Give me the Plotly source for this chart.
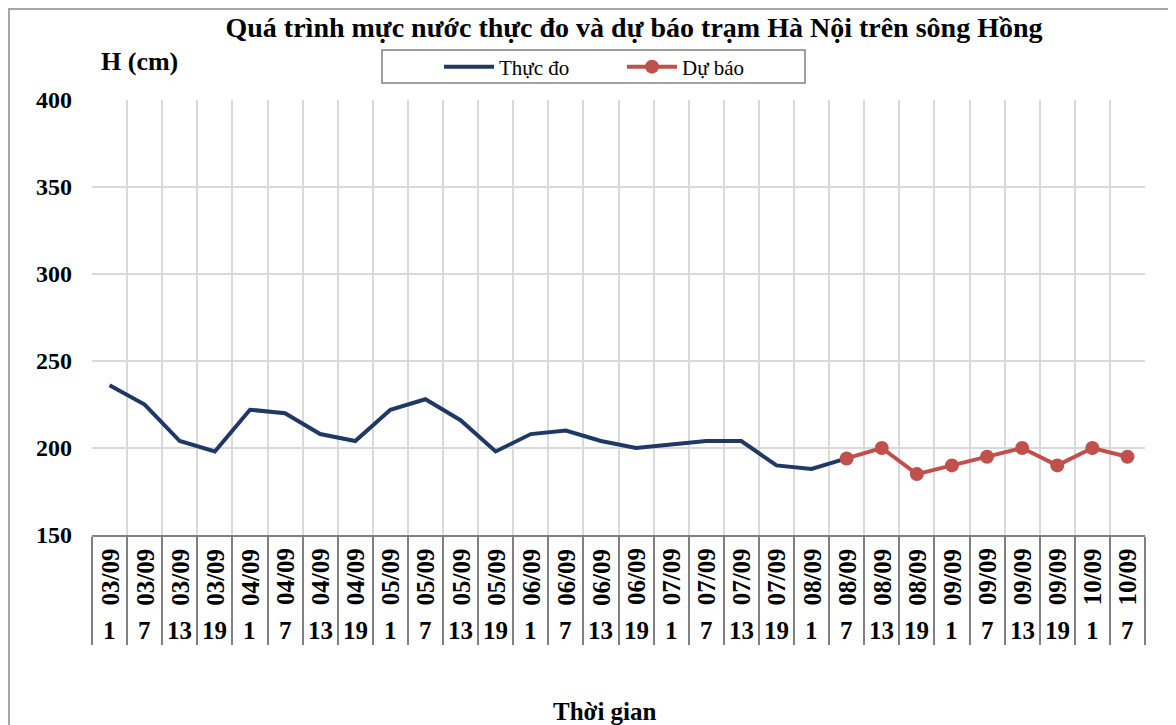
import plotly.graph_objects as go

dates = ["03/09"] * 4 + ["04/09"] * 4 + ["05/09"] * 4 + ["06/09"] * 4 + ["07/09"] * 4 + ["08/09"] * 4 + ["09/09"] * 4 + ["10/09"] * 2
hours = ["1", "7", "13", "19"] * 7 + ["1", "7"]

thuc_do = [236, 225, 204, 198, 222, 220, 208, 204, 222, 228, 216, 198,
           208, 210, 204, 200, 202, 204, 204, 190, 188, 194,
           None, None, None, None, None, None, None, None]
du_bao = [None] * 21 + [194, 200, 185, 190, 195, 200, 190, 200, 195]

n = len(dates)
xs = list(range(n))

OFF = 8  # page body margin
W, H = 1176 - OFF, 725 - OFF
L, R, T, B = 92, 1145, 100, 535  # plot area in page pixels
pw, ph = R - L, B - T

def px(x):
    return (x - L) / pw

def py(y):
    return (B - y) / ph

SERIF = "Liberation Serif"

fig = go.Figure()
fig.add_trace(go.Scatter(x=xs, y=thuc_do, mode="lines", name="Thực đo",
                         line=dict(color="#1F3864", width=4), connectgaps=False))
fig.add_trace(go.Scatter(x=xs, y=du_bao, mode="lines+markers", name="Dự báo",
                         line=dict(color="#C0504D", width=4),
                         marker=dict(color="#C0504D", size=14)))

annotations = []
for i in range(n):
    annotations.append(dict(x=i, y=py(577), xref="x", yref="paper", text=dates[i],
                            textangle=-90, showarrow=False, xanchor="center", yanchor="middle",
                            font=dict(family=SERIF, size=25, color="black", weight="bold")))
    annotations.append(dict(x=i, y=py(630), xref="x", yref="paper", text=hours[i],
                            showarrow=False, xanchor="center", yanchor="middle",
                            font=dict(family=SERIF, size=25, color="black", weight="bold")))
annotations.append(dict(x=px(139), y=py(62), xref="paper", yref="paper", text="H (cm)",
                        showarrow=False, xanchor="center", yanchor="middle",
                        font=dict(family=SERIF, size=26, color="black", weight="bold")))
annotations.append(dict(x=px(605), y=py(711), xref="paper", yref="paper", text="Thời gian",
                        showarrow=False, xanchor="center", yanchor="middle",
                        font=dict(family=SERIF, size=25, color="black", weight="bold")))

shapes = [
    dict(type="rect", xref="paper", yref="paper",
         x0=px(9), x1=px(1174), y0=py(760), y1=py(9),
         line=dict(color="#A6A6A6", width=2), fillcolor="rgba(0,0,0,0)", layer="below"),
    dict(type="rect", xref="paper", yref="paper",
         x0=px(382), x1=px(805), y0=py(83), y1=py(50),
         line=dict(color="#808080", width=1.5), fillcolor="white", layer="below"),
]

fig.update_layout(
    width=W, height=H,
    margin=dict(l=L - OFF, r=W - (R - OFF), t=T - OFF, b=H - (B - OFF), pad=0),
    paper_bgcolor="white", plot_bgcolor="white",
    title=dict(text="Quá trình mực nước thực đo và dự báo trạm Hà Nội trên sông Hồng",
               x=(634 - OFF) / W, y=1 - (27 - OFF) / H, xanchor="center", yanchor="middle",
               font=dict(family=SERIF, size=28, color="black", weight="bold")),
    showlegend=True,
    legend=dict(orientation="h", x=px(439), y=py(67), xanchor="left", yanchor="middle",
                borderwidth=0, bgcolor="rgba(0,0,0,0)",
                font=dict(family=SERIF, size=21, color="black"),
                entrywidth=118, entrywidthmode="pixels", itemwidth=50),
    xaxis=dict(range=[-0.5, n - 0.5], tickmode="array",
               tickvals=[i - 0.5 for i in range(n + 1)], ticktext=[""] * (n + 1),
               showgrid=True, gridcolor="#D9D9D9", gridwidth=2,
               ticks="outside", ticklen=108, tickcolor="#808080", tickwidth=2,
               showline=True, linecolor="#808080", linewidth=2, zeroline=False),
    yaxis=dict(range=[150, 400], tickmode="linear", tick0=150, dtick=50,
               showgrid=True, gridcolor="#D9D9D9", gridwidth=2, zeroline=False,
               showline=False, ticks="", ticklabelstandoff=19,
               tickfont=dict(family=SERIF, size=24, color="black", weight="bold")),
    annotations=annotations, shapes=shapes,
)

fig.write_html("out.html")
